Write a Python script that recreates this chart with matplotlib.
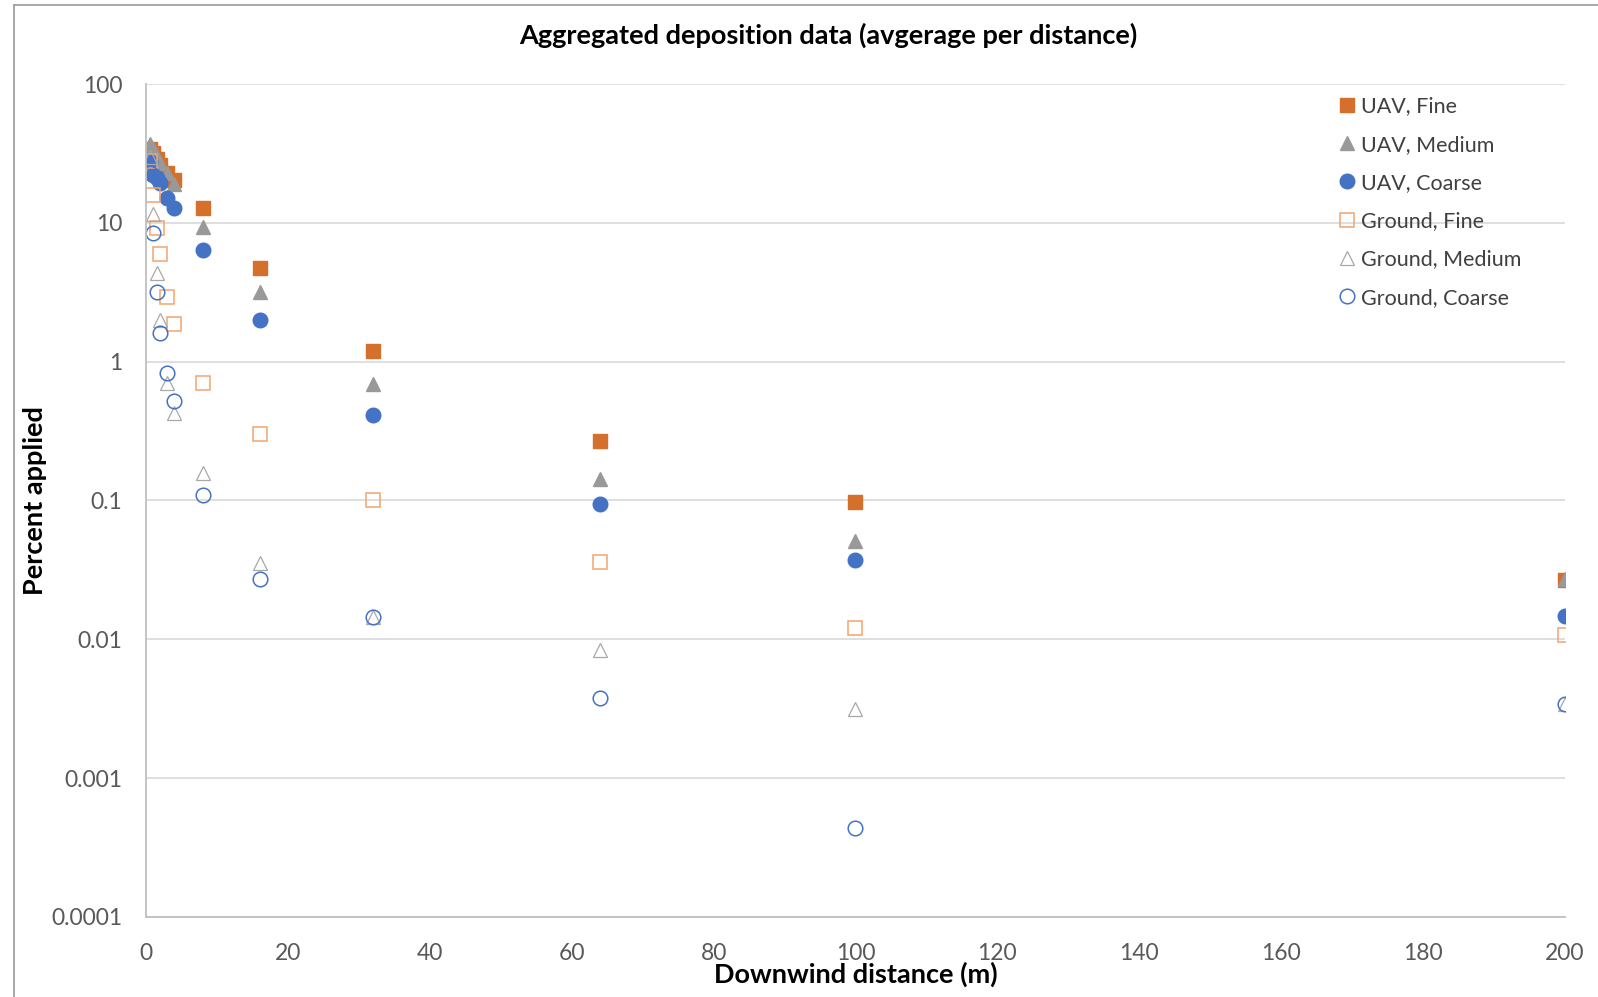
import matplotlib.pyplot as plt
from matplotlib.lines import Line2D

plt.rcParams['font.family'] = ['Lato', 'DejaVu Sans']

distance = [0.5, 1, 1.5, 2, 3, 4, 8, 16, 32, 64, 100, 200]

uav_fine = [34, 32, 29, 26, 23, 20.5, 12.7, 4.75, 1.2, 0.27, 0.098, 0.0267]
uav_medium = [37, 34, 30, 27, 23, 19, 9.35, 3.16, 0.69, 0.143, 0.0508, 0.027]
uav_coarse = [27.5, 22, 21, 19.4, 15.1, 12.8, 6.4, 2.0, 0.41, 0.095, 0.0375, 0.0148]
ground_fine = [28, 16, 9.2, 6.0, 2.94, 1.87, 0.70, 0.30, 0.10, 0.036, 0.012, 0.0107]
ground_medium = [30, 11.5, 4.35, 2.0, 0.70, 0.425, 0.157, 0.0356, 0.0145, 0.0084, 0.00316, 0.0034]
ground_coarse = [23, 8.4, 3.16, 1.6, 0.83, 0.52, 0.109, 0.027, 0.0145, 0.00375, 0.00044, 0.00344]

y_ticks = [100, 10, 1, 0.1, 0.01, 0.001, 0.0001]
y_labels = ['100', '10', '1', '0.1', '0.01', '0.001', '0.0001']
x_ticks = list(range(0, 201, 20))

fig = plt.figure(figsize=(15.98, 9.97), dpi=100)
ax = fig.add_axes([0.0914, 0.0803, 0.8879, 0.8354])

orange = '#D4702C'
orange_light = '#F4A36E'
gray = '#999999'
gray_light = '#A8A8A8'
blue = '#4472C4'

ms = 9.5
ax.plot(distance, uav_fine, 's', ms=ms, color=orange, mec=orange, label='UAV, Fine')
ax.plot(distance, uav_medium, '^', ms=ms + 1, color=gray, mec=gray, label='UAV, Medium')
ax.plot(distance, uav_coarse, 'o', ms=ms + 1, color=blue, mec=blue, label='UAV, Coarse')
ax.plot(distance, ground_fine, 's', ms=ms, mfc='none', mec=orange_light, mew=1.1, label='Ground, Fine')
ax.plot(distance, ground_medium, '^', ms=ms + 1, mfc='none', mec=gray_light, mew=0.9, label='Ground, Medium')
ax.plot(distance, ground_coarse, 'o', ms=ms + 1, mfc='none', mec=blue, mew=1.1, label='Ground, Coarse')

ax.set_yscale('log')
ax.set_ylim(0.0001, 100)
ax.set_xlim(0, 200)
ax.set_yticks(y_ticks)
ax.set_yticklabels(y_labels)
ax.minorticks_off()
ax.set_xticks(x_ticks)
ax.tick_params(axis='y', length=0, pad=17, labelsize=16.5, labelcolor='#595959')
ax.tick_params(axis='x', length=0, pad=19, labelsize=16.5, labelcolor='#595959')

ax.grid(axis='y', color='#D9D9D9', lw=1.2)
ax.set_axisbelow(True)
for s in ['top', 'right']:
    ax.spines[s].set_visible(False)
ax.spines['left'].set_color('#BFBFBF')
ax.spines['bottom'].set_color('#BFBFBF')
ax.spines['left'].set_linewidth(1.3)
ax.spines['bottom'].set_linewidth(1.3)

ax.set_xlabel('Downwind distance (m)', fontsize=19.5, fontweight='bold', va='center')
ax.xaxis.set_label_coords(0.5, -0.069)
ax.set_ylabel('Percent applied', fontsize=19.5, fontweight='bold', va='center')
ax.yaxis.set_label_coords(-0.078, 0.5)
fig.text(0.5183, 1 - 35 / 978, 'Aggregated deposition data (avgerage per distance)',
         fontsize=19.5, fontweight='bold', ha='center', va='center')

ax.legend(loc='upper right', bbox_to_anchor=(0.9828, 1.0085), frameon=False, fontsize=15.5,
          handletextpad=0.0, labelspacing=0.85, handlelength=1.3, labelcolor='#404040')

fig.add_artist(Line2D([14 / 1598, 14 / 1598], [0, 1 - 5 / 997], color='#A0A0A0', lw=1.3))
fig.add_artist(Line2D([14 / 1598, 1], [1 - 5 / 997, 1 - 5 / 997], color='#A0A0A0', lw=1.3))

fig.savefig('out.png', dpi=100)
